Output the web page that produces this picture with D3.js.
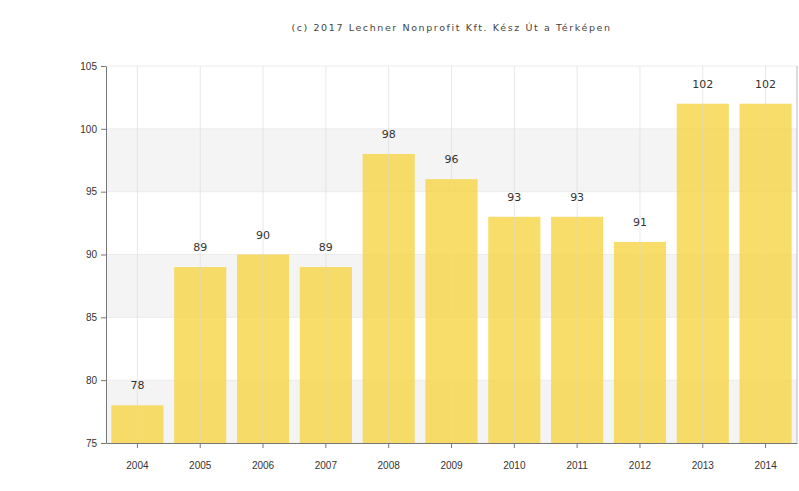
<!DOCTYPE html>
<html>
<head>
<meta charset="utf-8">
<script src="https://cdn.jsdelivr.net/npm/d3@7"></script>
<style>
  body { margin: 0; background: #fff; }
  svg { font-family: "DejaVu Sans", Verdana, sans-serif; }
  .axis path, .axis line { stroke: #777; }
  .axis text { fill: #333; font-size: 10px; }
  .valueLabel { fill: #333; font-size: 11px; text-anchor: middle; }
</style>
</head>
<body>
<div id="chart"></div>
<script>
var years = ["2004", "2005", "2006", "2007", "2008", "2009", "2010", "2011", "2012", "2013", "2014"];
var values = [78, 89, 90, 89, 98, 96, 93, 93, 91, 102, 102];
var yTicks = [75, 80, 85, 90, 95, 100, 105];
var bands = [[95, 100], [85, 90], [75, 80]];
var title = "(c) 2017 Lechner Nonprofit Kft. Kész Út a Térképen";

var width = 799, height = 491;
var margin = {top: 66, right: 2, bottom: 48, left: 106};

var svg = d3.select("#chart").append("svg")
    .attr("width", width)
    .attr("height", height);

var x = d3.scaleBand()
    .domain(years)
    .range([margin.left, width - margin.right])
    .paddingInner(0.17)
    .paddingOuter(0.085);

var y = d3.scaleLinear()
    .domain([75, 105])
    .range([height - margin.bottom, margin.top]);

// grey bands
svg.selectAll("rect.band")
    .data(bands)
    .enter()
    .append("rect")
    .attr("class", "band")
    .attr("x", margin.left)
    .attr("width", width - margin.right - margin.left)
    .attr("y", d => y(d[1]))
    .attr("height", d => y(d[0]) - y(d[1]))
    .style("fill", "#f4f4f4");

// horizontal grid
svg.selectAll("line.hgrid")
    .data(yTicks)
    .enter()
    .append("line")
    .attr("class", "hgrid")
    .attr("x1", margin.left)
    .attr("x2", width - margin.right)
    .attr("y1", d => y(d))
    .attr("y2", d => y(d))
    .style("stroke", "#ececec");

// bars
svg.selectAll("rect.bar")
    .data(values)
    .enter()
    .append("rect")
    .attr("class", "bar")
    .attr("x", (d, i) => x(years[i]))
    .attr("width", x.bandwidth())
    .attr("y", d => y(d))
    .attr("height", d => y(75) - y(d))
    .style("fill", "#f6d440")
    .style("opacity", 0.78);

// vertical grid (on top, faint)
svg.selectAll("line.vgrid")
    .data(years)
    .enter()
    .append("line")
    .attr("class", "vgrid")
    .attr("x1", d => x(d) + x.bandwidth() / 2)
    .attr("x2", d => x(d) + x.bandwidth() / 2)
    .attr("y1", margin.top)
    .attr("y2", height - margin.bottom)
    .style("stroke", "#d8d8d8")
    .style("stroke-opacity", 0.6);

// value labels
svg.selectAll("text.valueLabel")
    .data(values)
    .enter()
    .append("text")
    .attr("class", "valueLabel")
    .attr("x", (d, i) => x(years[i]) + x.bandwidth() / 2)
    .attr("y", d => y(d) - 16)
    .text(d => d);

// axes
svg.append("g")
    .attr("class", "axis")
    .attr("transform", `translate(${margin.left}, 0)`)
    .call(d3.axisLeft(y).tickValues(yTicks).tickSize(5).tickSizeOuter(0).tickPadding(4));

svg.append("g")
    .attr("class", "axis")
    .attr("transform", `translate(0, ${height - margin.bottom})`)
    .call(d3.axisBottom(x).tickSize(5).tickSizeOuter(0).tickPadding(14));

// right frame
svg.append("line")
    .attr("x1", width - margin.right)
    .attr("x2", width - margin.right)
    .attr("y1", margin.top)
    .attr("y2", height - margin.bottom)
    .style("stroke", "#bbb");

// title
svg.append("text")
    .attr("x", (margin.left + width - margin.right) / 2)
    .attr("y", 31)
    .style("text-anchor", "middle")
    .style("font-size", "9.5px")
    .style("letter-spacing", "1.6px")
    .style("fill", "#444")
    .text(title);
</script>
</body>
</html>
